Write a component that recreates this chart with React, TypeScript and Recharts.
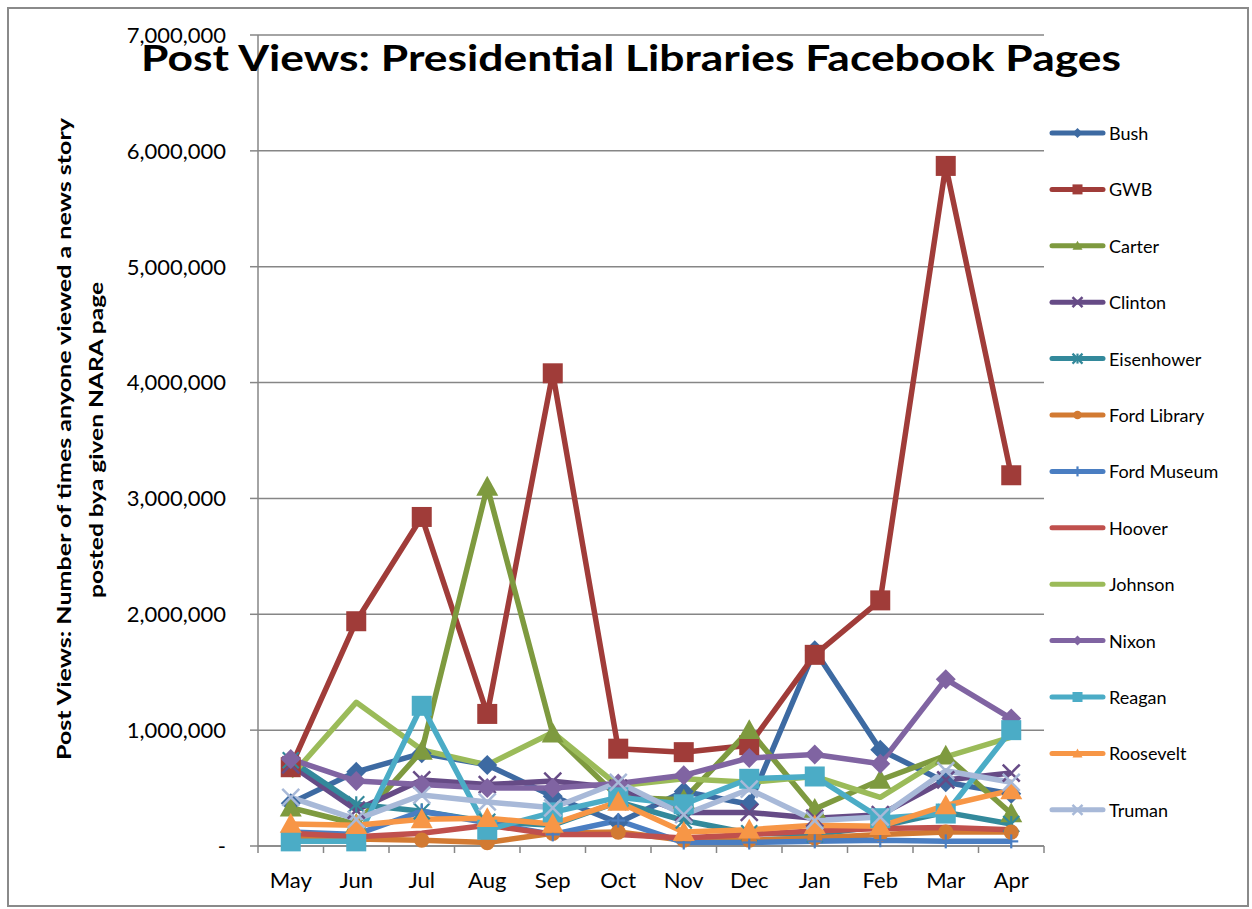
import { CartesianGrid, Line, LineChart, XAxis, YAxis } from "recharts";

const months = ["May", "Jun", "Jul", "Aug", "Sep", "Oct", "Nov", "Dec", "Jan", "Feb", "Mar", "Apr"];

const bush = [370000, 640000, 800000, 700000, 430000, 200000, 470000, 360000, 1690000, 830000, 550000, 450000];
const gwb = [680000, 1940000, 2840000, 1140000, 4080000, 840000, 810000, 870000, 1650000, 2120000, 5870000, 3200000];
const carter = [330000, 190000, 820000, 3100000, 970000, 420000, 400000, 1000000, 320000, 570000, 780000, 280000];
const clinton = [700000, 310000, 570000, 530000, 560000, 500000, 290000, 290000, 240000, 270000, 570000, 630000];
const eisenhower = [740000, 360000, 300000, 210000, 180000, 380000, 220000, 110000, 100000, 170000, 290000, 190000];
const fordLibrary = [70000, 60000, 50000, 30000, 110000, 120000, 50000, 50000, 70000, 100000, 120000, 120000];
const fordMuseum = [120000, 100000, 300000, 200000, 100000, 220000, 30000, 30000, 40000, 50000, 40000, 40000];
const hoover = [110000, 80000, 110000, 180000, 100000, 100000, 70000, 100000, 130000, 150000, 160000, 140000];
const johnson = [600000, 1240000, 830000, 700000, 980000, 520000, 580000, 550000, 600000, 420000, 770000, 940000];
const nixon = [750000, 560000, 530000, 500000, 500000, 540000, 610000, 760000, 790000, 710000, 1440000, 1100000];
const reagan = [40000, 40000, 1210000, 140000, 290000, 420000, 360000, 580000, 600000, 240000, 280000, 1000000];
const roosevelt = [190000, 180000, 230000, 240000, 190000, 380000, 120000, 140000, 180000, 170000, 350000, 480000];
const truman = [420000, 230000, 440000, 380000, 330000, 550000, 270000, 490000, 220000, 250000, 650000, 550000];

const yTicks = [0, 1000000, 2000000, 3000000, 4000000, 5000000, 6000000, 7000000];

type Shape = "diamond" | "square" | "triangle" | "x" | "asterisk" | "circle" | "plus" | "none";

const series: { key: string; name: string; values: number[]; color: string; shape: Shape }[] = [
  { key: "bush", name: "Bush", values: bush, color: "#3D6AA2", shape: "diamond" },
  { key: "gwb", name: "GWB", values: gwb, color: "#A03C39", shape: "square" },
  { key: "carter", name: "Carter", values: carter, color: "#7E9A3F", shape: "triangle" },
  { key: "clinton", name: "Clinton", values: clinton, color: "#664B86", shape: "x" },
  { key: "eisenhower", name: "Eisenhower", values: eisenhower, color: "#33899B", shape: "asterisk" },
  { key: "fordLibrary", name: "Ford Library", values: fordLibrary, color: "#D27A32", shape: "circle" },
  { key: "fordMuseum", name: "Ford Museum", values: fordMuseum, color: "#4A7EC2", shape: "plus" },
  { key: "hoover", name: "Hoover", values: hoover, color: "#C0504D", shape: "none" },
  { key: "johnson", name: "Johnson", values: johnson, color: "#9BBB59", shape: "none" },
  { key: "nixon", name: "Nixon", values: nixon, color: "#8064A2", shape: "diamond" },
  { key: "reagan", name: "Reagan", values: reagan, color: "#4BACC6", shape: "square" },
  { key: "roosevelt", name: "Roosevelt", values: roosevelt, color: "#F79646", shape: "triangle" },
  { key: "truman", name: "Truman", values: truman, color: "#A8B9D8", shape: "x" },
];

const data = months.map((m, i) => {
  const row: Record<string, string | number> = { month: m };
  series.forEach((s) => (row[s.key] = s.values[i]));
  return row;
});

const FONT = "Lato, 'Open Sans', sans-serif";
const PLOT_LEFT = 258;
const PLOT_RIGHT = 1044;
const BAND = (PLOT_RIGHT - PLOT_LEFT) / months.length;

function marker(shape: Shape, color: string, cx: number, cy: number, size: number) {
  const h = size / 2;
  switch (shape) {
    case "diamond":
      return <polygon points={`${cx},${cy - h} ${cx + h},${cy} ${cx},${cy + h} ${cx - h},${cy}`} fill={color} />;
    case "square":
      return <rect x={cx - h} y={cy - h} width={size} height={size} fill={color} />;
    case "triangle":
      return <polygon points={`${cx},${cy - h} ${cx + h},${cy + h * 0.8} ${cx - h},${cy + h * 0.8}`} fill={color} />;
    case "circle":
      return <circle cx={cx} cy={cy} r={h * 0.85} fill={color} />;
    case "x":
      return (
        <g stroke={color} strokeWidth={2.5}>
          <line x1={cx - h} y1={cy - h} x2={cx + h} y2={cy + h} />
          <line x1={cx - h} y1={cy + h} x2={cx + h} y2={cy - h} />
        </g>
      );
    case "asterisk":
      return (
        <g stroke={color} strokeWidth={2.2}>
          <line x1={cx - h} y1={cy - h} x2={cx + h} y2={cy + h} />
          <line x1={cx - h} y1={cy + h} x2={cx + h} y2={cy - h} />
          <line x1={cx} y1={cy - h} x2={cx} y2={cy + h} />
        </g>
      );
    case "plus":
      return (
        <g stroke={color} strokeWidth={2.2}>
          <line x1={cx} y1={cy - h} x2={cx} y2={cy + h} />
          <line x1={cx - h} y1={cy} x2={cx + h} y2={cy} />
        </g>
      );
    default:
      return null;
  }
}

const dotSize: Record<Shape, number> = {
  diamond: 20,
  square: 20,
  triangle: 22,
  x: 17,
  asterisk: 16,
  circle: 18,
  plus: 14,
  none: 0,
};

function makeDot(shape: Shape, color: string) {
  return (props: any) => {
    const { cx, cy, index } = props;
    if (shape === "none" || cx == null || cy == null) return <g key={index} />;
    return <g key={index}>{marker(shape, color, cx, cy, dotSize[shape])}</g>;
  };
}

const XTick = (props: any) => {
  const { x, y, payload, index } = props;
  const left = x - BAND / 2;
  return (
    <g>
      <line x1={left} y1={y - 8} x2={left} y2={y - 1} stroke="#868686" strokeWidth={1.5} />
      {index === months.length - 1 && (
        <line x1={left + BAND} y1={y - 8} x2={left + BAND} y2={y - 1} stroke="#868686" strokeWidth={1.5} />
      )}
      <text x={x} y={y + 34} textAnchor="middle" fontSize={22} fontFamily={FONT} fill="#000">
        {payload.value}
      </text>
    </g>
  );
};

const fmtY = (v: number) => (v === 0 ? "-" : v.toLocaleString("en-US"));

export default function App() {
  return (
    <div style={{ position: "absolute", left: 0, top: 0, width: 1252, height: 909, background: "#fff" }}>
      <div
        style={{
          position: "absolute",
          left: 7,
          top: 7,
          width: 1238,
          height: 896,
          border: "2px solid #8a8a8a",
        }}
      />
      <LineChart
        width={1252}
        height={909}
        data={data}
        margin={{ top: 35, right: 1252 - PLOT_RIGHT, left: 8, bottom: 23 }}
        style={{ position: "absolute", left: 0, top: 0 }}
      >
        <CartesianGrid vertical={false} stroke="#868686" strokeWidth={1.5} />
        <XAxis
          dataKey="month"
          height={40}
          padding={{ left: BAND / 2, right: BAND / 2 }}
          axisLine={{ stroke: "#868686", strokeWidth: 1.5 }}
          tickLine={false}
          tick={<XTick />}
          interval={0}
        />
        <YAxis
          width={250}
          domain={[0, 7000000]}
          ticks={yTicks}
          tickFormatter={fmtY}
          axisLine={{ stroke: "#868686", strokeWidth: 1.5 }}
          tickLine={{ stroke: "#868686", strokeWidth: 1.5 }}
          tickSize={8}
          tick={{ fontSize: 22, fontFamily: FONT, fill: "#000", dx: -22, dy: 0 }}
        />
        {series.map((s) => (
          <Line
            key={s.key}
            dataKey={s.key}
            name={s.name}
            type="linear"
            stroke={s.color}
            strokeWidth={5.5}
            strokeLinejoin="round"
            dot={makeDot(s.shape, s.color)}
            activeDot={false}
            isAnimationActive={false}
          />
        ))}
      </LineChart>
      <svg width={1252} height={909} style={{ position: "absolute", left: 0, top: 0, pointerEvents: "none" }}>
        <text
          x={631}
          y={71}
          textAnchor="middle"
          fontSize={36}
          fontWeight="bold"
          fontFamily={FONT}
          textLength={980}
          lengthAdjust="spacingAndGlyphs"
        >
          Post Views: Presidential Libraries Facebook Pages
        </text>
        <text
          transform="translate(63,439) rotate(-90)"
          textAnchor="middle"
          dominantBaseline="central"
          fontSize={19}
          fontWeight="bold"
          fontFamily={FONT}
          textLength={642}
          lengthAdjust="spacingAndGlyphs"
        >
          Post Views: Number of times anyone viewed a news story
        </text>
        <text
          transform="translate(95,440) rotate(-90)"
          textAnchor="middle"
          dominantBaseline="central"
          fontSize={19}
          fontWeight="bold"
          fontFamily={FONT}
          textLength={316}
          lengthAdjust="spacingAndGlyphs"
        >
          posted bya given NARA page
        </text>
        {series.map((s, i) => {
          const y = 133 + i * 56.4;
          return (
            <g key={s.key}>
              <line x1={1052} y1={y} x2={1103} y2={y} stroke={s.color} strokeWidth={5} strokeLinecap="round" />
              {marker(s.shape, s.color, 1077.5, y, s.shape === "none" ? 0 : 10)}
              <text x={1109} y={y} dominantBaseline="central" fontSize={18} fontFamily={FONT} fill="#000">
                {s.name}
              </text>
            </g>
          );
        })}
      </svg>
    </div>
  );
}
